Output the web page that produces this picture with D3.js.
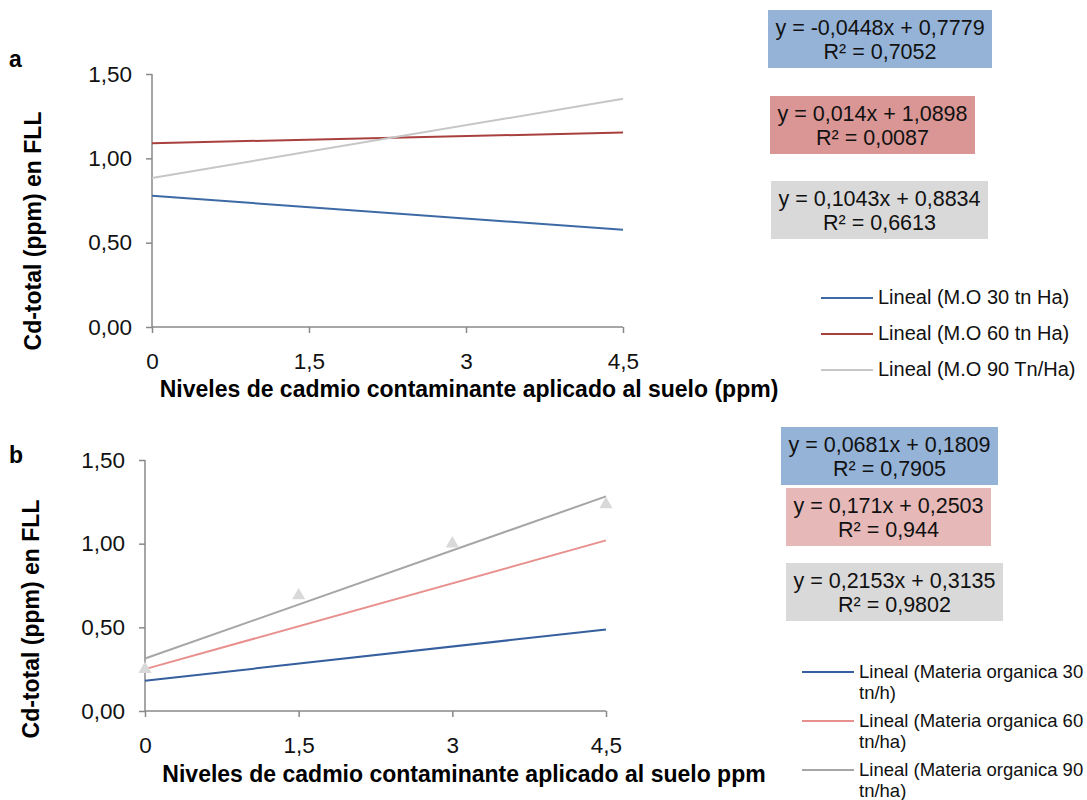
<!DOCTYPE html>
<html>
<head>
<meta charset="utf-8">
<script src="https://cdn.jsdelivr.net/npm/d3@7"></script>
<style>
  body { margin: 0; background: #fff; }
  svg { font-family: "Liberation Sans", Arial, sans-serif; }
</style>
</head>
<body>
<div id="chart"></div>
<script>
// shared axis values
const xTicks = [0, 1.5, 3, 4.5];
const yTicks = [0, 0.5, 1, 1.5];

// panel a: linear trends
const namesA = ["Lineal (M.O 30 tn Ha)", "Lineal (M.O 60 tn Ha)", "Lineal (M.O 90 Tn/Ha)"];
const slopesA = [-0.0448, 0.014, 0.1043];
const interceptsA = [0.7779, 1.0898, 0.8834];
const eqA = ["y = -0,0448x + 0,7779", "y = 0,014x + 1,0898", "y = 0,1043x + 0,8834"];
const r2A = ["R² = 0,7052", "R² = 0,0087", "R² = 0,6613"];

// panel b: linear trends
const namesB = [["Lineal (Materia organica 30", "tn/h)"], ["Lineal (Materia organica 60", "tn/ha)"], ["Lineal (Materia organica 90", "tn/ha)"]];
const slopesB = [0.0681, 0.171, 0.2153];
const interceptsB = [0.1809, 0.2503, 0.3135];
const eqB = ["y = 0,0681x + 0,1809", "y = 0,171x + 0,2503", "y = 0,2153x + 0,3135"];
const r2B = ["R² = 0,7905", "R² = 0,944", "R² = 0,9802"];

// panel b: visible observed points (90 tn/ha)
const pointsX = [0, 1.5, 3, 4.5];
const pointsY = [0.25, 0.69, 1.0, 1.235];

const fmtX = d => String(d).replace(".", ",");
const fmtY = d => d.toFixed(2).replace(".", ",");

const svg = d3.select("#chart").append("svg")
  .attr("width", 1087)
  .attr("height", 800);

function panel(opt) {
  const x = d3.scaleLinear().domain([0, 4.5]).range([opt.x0, opt.x1]);
  const y = d3.scaleLinear().domain([0, 1.5]).range([opt.y0, opt.y1]);
  const g = svg.append("g");

  // y axis
  const ya = g.append("g")
    .attr("transform", "translate(" + opt.x0 + ",0)")
    .call(d3.axisLeft(y).tickValues(yTicks).tickFormat(fmtY).tickSize(6).tickPadding(14));
  // x axis
  const xa = g.append("g")
    .attr("transform", "translate(0," + opt.y0 + ")")
    .call(d3.axisBottom(x).tickValues(xTicks).tickFormat(fmtX).tickSize(6).tickPadding(13));

  [ya, xa].forEach(a => {
    a.select(".domain").attr("stroke", "#888").attr("stroke-width", 1.5);
    a.selectAll(".tick line").attr("stroke", "#888").attr("stroke-width", 1.5);
    a.selectAll(".tick text").attr("fill", "#111").style("font-size", "22.5px")
      .style("font-family", "Liberation Sans, Arial, sans-serif");
  });
  // plain axis lines without outer ticks
  ya.select(".domain").attr("d", "M0," + opt.y0 + "V" + opt.y1);
  xa.select(".domain").attr("d", "M" + opt.x0 + ",0H" + opt.x1);
  xa.selectAll(".tick text").attr("dy", "1em");

  // trend lines
  const line = d3.line().x(d => x(d[0])).y(d => y(d[1]));
  opt.slopes.forEach((s, i) => {
    const b = opt.intercepts[i];
    g.append("path")
      .datum([[0, b], [4.5, b + s * 4.5]])
      .attr("d", line)
      .attr("fill", "none")
      .attr("stroke", opt.colors[i])
      .attr("stroke-width", 2);
  });

  if (opt.points) {
    g.selectAll(".pt")
      .data(opt.points)
      .enter().append("path")
      .attr("d", d3.symbol().type(d3.symbolTriangle).size(75))
      .attr("transform", d => "translate(" + x(d[0]) + "," + y(d[1]) + ")")
      .attr("fill", "#d9d9d9");
  }

  // axis titles
  g.append("text")
    .attr("x", opt.xtX).attr("y", opt.xtY)
    .attr("text-anchor", "middle")
    .style("font-weight", "bold").style("font-size", "23px")
    .text(opt.xTitle);
  g.append("text")
    .attr("transform", "translate(" + opt.ytX + "," + opt.ytY + ") rotate(-90)")
    .attr("text-anchor", "middle")
    .style("font-weight", "bold").style("font-size", "23px")
    .text("Cd-total (ppm) en FLL");
  g.append("text")
    .attr("x", 9).attr("y", opt.labelY)
    .style("font-weight", "bold").style("font-size", "23px")
    .text(opt.label);

  // equation boxes
  opt.boxes.forEach((bx, i) => {
    g.append("rect")
      .attr("x", bx[0]).attr("y", bx[1])
      .attr("width", bx[2]).attr("height", 58)
      .attr("fill", opt.boxFill[i]);
    const cx = bx[0] + bx[2] / 2;
    g.append("text").attr("x", cx).attr("y", bx[1] + 25)
      .attr("text-anchor", "middle").style("font-size", "21.5px").attr("fill", "#111")
      .text(opt.eq[i]);
    g.append("text").attr("x", cx).attr("y", bx[1] + 49)
      .attr("text-anchor", "middle").style("font-size", "21.5px").attr("fill", "#111")
      .text(opt.r2[i]);
  });

  // legend
  opt.names.forEach((nm, i) => {
    const ly = opt.legY + i * opt.legStep;
    g.append("line")
      .attr("x1", opt.legX).attr("x2", opt.legX + 52)
      .attr("y1", ly).attr("y2", ly)
      .attr("stroke", opt.colors[i]).attr("stroke-width", 2);
    const lines = Array.isArray(nm) ? nm : [nm];
    lines.forEach((t, j) => {
      g.append("text")
        .attr("x", opt.legX + 57).attr("y", ly + 6 + j * 21)
        .style("font-size", opt.legFont).attr("fill", "#111")
        .text(t);
    });
  });
}

panel({
  x0: 152, x1: 623, y0: 327, y1: 74,
  slopes: slopesA, intercepts: interceptsA,
  colors: ["#3d6aa5", "#a8403e", "#c6c6c6"],
  xTitle: "Niveles de cadmio contaminante aplicado al suelo (ppm)",
  xtX: 469, xtY: 397, ytX: 41, ytY: 231,
  label: "a", labelY: 67,
  boxes: [[768, 10, 224], [770, 96, 205], [771, 181, 217]],
  boxFill: ["#95b3d7", "#d99694", "#d9d9d9"],
  eq: eqA, r2: r2A,
  names: namesA, legX: 821, legY: 298, legStep: 36, legFont: "20px"
});

panel({
  x0: 145, x1: 606, y0: 711, y1: 460,
  slopes: slopesB, intercepts: interceptsB,
  colors: ["#355f9e", "#e8908e", "#a6a6a6"],
  points: pointsX.map((v, i) => [v, pointsY[i]]),
  xTitle: "Niveles de cadmio contaminante aplicado al suelo ppm",
  xtX: 464, xtY: 782, ytX: 39, ytY: 619,
  label: "b", labelY: 463,
  boxes: [[781, 427, 217], [786, 488, 205], [786, 563, 217]],
  boxFill: ["#95b3d7", "#e6b9b8", "#d9d9d9"],
  eq: eqB, r2: r2B,
  names: namesB, legX: 802, legY: 672, legStep: 49, legFont: "18.5px"
});
</script>
</body>
</html>
